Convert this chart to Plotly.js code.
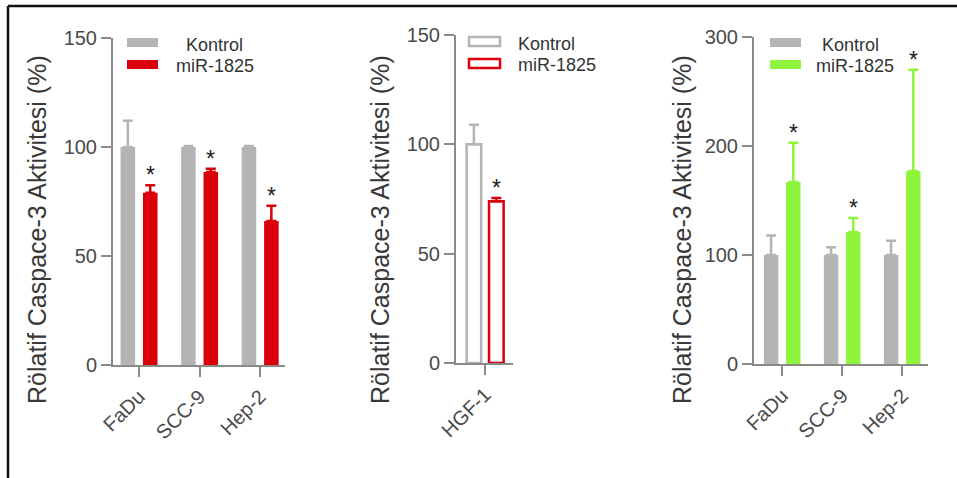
<!DOCTYPE html>
<html>
<head>
<meta charset="utf-8">
<script src="https://cdn.plot.ly/plotly-3.0.1.min.js"></script>
<style>html,body{margin:0;padding:0;background:#fff;}#chart{width:957px;height:478px;}</style>
</head>
<body>
<div id="chart"></div>
<script>
// ---- data ----
const cellLinesA = ["FaDu", "SCC-9", "Hep-2"];
const kontrolA = [100, 100, 100];
const kontrolAErr = [12, 0.5, 0.5];
const mirA = [79, 88.5, 66];
const mirAErr = [3.5, 1.5, 7];

const cellLinesB = ["HGF-1"];
const kontrolB = [100];
const kontrolBErr = [9];
const mirB = [74];
const mirBErr = [1.5];

const cellLinesC = ["FaDu", "SCC-9", "Hep-2"];
const kontrolC = [100, 100, 100];
const kontrolCErr = [18, 7, 13];
const mirC = [167, 121, 177];
const mirCErr = [36, 13, 93];

const seriesNames = ["Kontrol", "miR-1825"];
const yTitle = "Rölatif Caspace-3 Aktivitesi (%)";
const sigMark = "*";

// ---- styles ----
const GRAY = "#b4b4b4", RED = "#d9000b", GREEN = "#8ef53c";
const AXC = "#8a8a8a", TXT = "#4a4a4a";
const W = 957, H = 478;
const FONT = "Liberation Sans, Arial, sans-serif";

function bar(x, y, err, name, color, xa, ya, hollow) {
  return {
    type: "bar", x: x, y: y, name: name, xaxis: xa, yaxis: ya, showlegend: false,
    marker: hollow ? {color: "rgba(255,255,255,0)", line: {color: color, width: 2.5}}
                   : {color: color, line: {width: 0}},
    error_y: {type: "data", array: err, arrayminus: err.map(() => 0), symmetric: false,
              color: color, thickness: 2.5, width: 5}
  };
}

const data = [
  bar(cellLinesA, kontrolA, kontrolAErr, seriesNames[0], GRAY, "x", "y", false),
  bar(cellLinesA, mirA, mirAErr, seriesNames[1], RED, "x", "y", false),
  bar(cellLinesB, kontrolB, kontrolBErr, seriesNames[0], GRAY, "x2", "y2", true),
  bar(cellLinesB, mirB, mirBErr, seriesNames[1], RED, "x2", "y2", true),
  bar(cellLinesC, kontrolC, kontrolCErr, seriesNames[0], GRAY, "x3", "y3", false),
  bar(cellLinesC, mirC, mirCErr, seriesNames[1], GREEN, "x3", "y3", false)
];

function xax(d0, d1, r, anchor) {
  return {domain: [d0 / W, d1 / W], range: r, type: "category", anchor: anchor,
    showline: true, linecolor: AXC, linewidth: 2, ticks: "outside", ticklen: 10,
    tickcolor: AXC, tickwidth: 2, tickangle: -45, showgrid: false, zeroline: false,
    tickfont: {family: FONT, size: 20, color: TXT}, fixedrange: true};
}
function yax(top, bottom, r, dt, anchor) {
  return {domain: [1 - bottom / H, 1 - top / H], range: r, dtick: dt, anchor: anchor,
    showline: true, linecolor: AXC, linewidth: 2, ticks: "outside", ticklen: 10,
    tickcolor: AXC, tickwidth: 2, showgrid: false, zeroline: false,
    tickfont: {family: FONT, size: 20, color: TXT},
    fixedrange: true};
}

const annotations = [];
const shapes = [];
// y-axis titles (placed like the reference, slightly below the axis centre)
[37, 380, 682].forEach(px => {
  annotations.push({xref: "paper", yref: "paper", x: px / W, y: 1 - 230 / H,
    xanchor: "center", yanchor: "middle", textangle: -90, text: yTitle, showarrow: false,
    font: {family: FONT, size: 25, color: "#383838"}});
});
// significance stars
function stars(cats, vals, errs, xref, yref) {
  cats.forEach((c, i) => {
    annotations.push({x: c, y: vals[i] + errs[i], xref: xref, yref: yref, text: sigMark,
      showarrow: false, xshift: 11, yshift: 10, font: {family: FONT, size: 23, color: "#222"}});
  });
}
stars(cellLinesA, mirA, mirAErr, "x", "y");
stars(cellLinesB, mirB, mirBErr, "x2", "y2");
stars(cellLinesC, mirC, mirCErr, "x3", "y3");

// legends (swatch + label) per panel
function legend(x0, yTop, colors, hollow, textX) {
  seriesNames.forEach((n, i) => {
    const y = yTop + i * 22;
    shapes.push({type: "rect", xref: "paper", yref: "paper",
      x0: x0 / W, x1: (x0 + 31) / W, y0: 1 - (y + 9) / H, y1: 1 - y / H,
      fillcolor: hollow ? "rgba(255,255,255,0)" : colors[i],
      line: hollow ? {color: colors[i], width: 2.5} : {width: 0}});
    annotations.push({xref: "paper", yref: "paper", x: textX[i] / W, y: 1 - (y + 6.5) / H,
      xanchor: "left", yanchor: "middle", text: n, showarrow: false,
      font: {family: FONT, size: 18, color: "#333"}});
  });
}
legend(127, 38, [GRAY, RED], false, [184, 174]);
legend(469, 37, [GRAY, RED], true, [516, 516]);
legend(770, 38, [GRAY, GREEN], false, [820, 814]);

// outer frame (left & top)
shapes.push({type: "line", xref: "paper", yref: "paper", x0: 8 / W, x1: 8 / W, y0: 0, y1: 1 - 6 / H, line: {color: "#111", width: 2.5}});
shapes.push({type: "line", xref: "paper", yref: "paper", x0: 8 / W, x1: 1, y0: 1 - 6 / H, y1: 1 - 6 / H, line: {color: "#111", width: 2.5}});

const layout = {
  width: W, height: H, margin: {l: 0, r: 0, t: 0, b: 0},
  paper_bgcolor: "#fff", plot_bgcolor: "rgba(0,0,0,0)",
  barmode: "group", bargap: 0.26, bargroupgap: 0.35, showlegend: false,
  xaxis: xax(113, 285, [-0.43, 2.41], "y"),
  yaxis: yax(38, 365, [0, 150], 50, "x"),
  xaxis2: xax(456, 513, [-0.48, 0.46], "y2"),
  yaxis2: yax(35, 363, [0, 150], 50, "x2"),
  xaxis3: xax(754, 928, [-0.47, 2.43], "y3"),
  yaxis3: yax(37, 364, [0, 300], 100, "x3"),
  annotations: annotations, shapes: shapes,
  font: {family: FONT}
};

Plotly.newPlot("chart", data, layout, {staticPlot: true, displayModeBar: false});
</script>
</body>
</html>
